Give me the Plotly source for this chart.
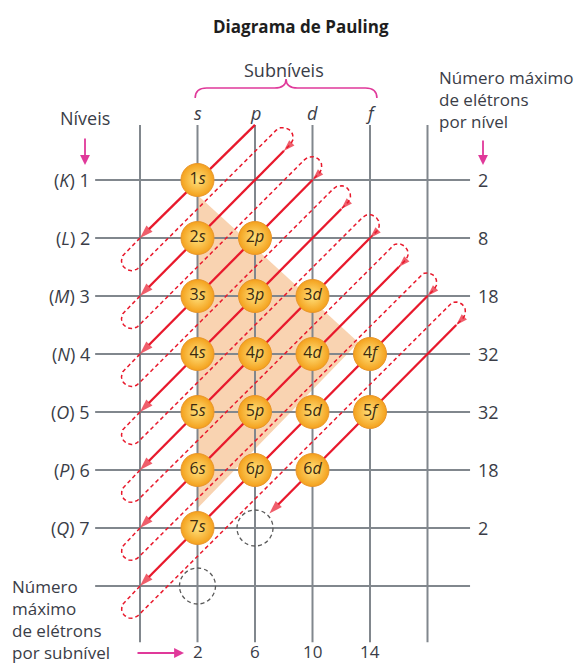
import math
import plotly.graph_objects as go

# ---------------- data ----------------
shells = ["K", "L", "M", "N", "O", "P", "Q"]
levels = [1, 2, 3, 4, 5, 6, 7]
max_e_level = [2, 8, 18, 32, 32, 18, 2]
subshells = ["s", "p", "d", "f"]
max_e_sub = [2, 6, 10, 14]
orb_level = [1, 2, 2, 3, 3, 3, 4, 4, 4, 4, 5, 5, 5, 5, 6, 6, 6, 7]
orb_sub = ["s", "s", "p", "s", "p", "d", "s", "p", "d", "f",
           "s", "p", "d", "f", "s", "p", "d", "s"]
empty_level = [7, 8]
empty_sub = ["p", "s"]
# diagonals in (column index, level) units: s=1, p=2, d=3, f=4
diag_start_col = [2, 2.5, 3, 3.5, 4, 4.5, 5, 5.5]
diag_start_lvl = [0.05, 0.5, 1, 1.5, 2, 2.5, 3, 3.5]
diag_end_col = [0, 0, 0, 0, 0, 0, 0, 2.25]
diag_end_lvl = [2, 3, 4, 5, 6, 7, 8, 6.75]

# ---------------- geometry helpers ----------------
PAGE_W, PAGE_H = 588, 664
OFF = 8  # page body margin
W, H = PAGE_W - OFF, PAGE_H - OFF
X0, DX = 140.0, 57.5
Y0, DY = 122.0, 58.0


def to_px(c, r):
    return X0 + DX * c, Y0 + DY * r


def to_data(x, y):
    return (x - X0) / DX, (y - Y0) / DY


col_of = {s: i + 1 for i, s in enumerate(subshells)}

FONT = "Open Sans"
TXT = "#3a3d47"
RED = "#e8192c"
GRID = "#81878d"
MAG = "#e0399a"

fig = go.Figure()
shapes = []
ann = []

# shaded triangle
sh = [(1, 1.26), (3.8, 3.8), (1, 6.66)]
shapes.append(dict(type="path", xref="x", yref="y", layer="below",
                   path="M %f,%f L %f,%f L %f,%f Z" % (sh[0] + sh[1] + sh[2]),
                   fillcolor="#f9d3b1", line=dict(width=0)))

# grid
n_cols = len(subshells) + 2
for c in range(n_cols):
    shapes.append(dict(type="line", xref="x", yref="y", layer="below",
                       x0=c, x1=c, y0=0.05, y1=8.97,
                       line=dict(color=GRID, width=2)))
for r in range(1, len(levels) + 2):
    shapes.append(dict(type="line", xref="x", yref="y", layer="below",
                       x0=-0.78, x1=5.74, y0=r, y1=r,
                       line=dict(color=GRID, width=2)))

# dashed connectors
s2 = math.sqrt(0.5)
u = (s2, -s2)
nv = (s2, s2)
for k in range(len(diag_start_col) - 1):
    Ex, Ey = to_px(diag_end_col[k], diag_end_lvl[k])
    Sx, Sy = to_px(diag_start_col[k + 1], diag_start_lvl[k + 1])
    D = (Sx - Ex) * nv[0] + (Sy - Ey) * nv[1]
    rho = D / 4.0
    a, b = 22.0, 9.0
    pts = [(Ex, Ey)]
    cbx = Ex - a * u[0] + rho * nv[0]
    cby = Ey - a * u[1] + rho * nv[1]
    for i in range(0, 25):
        t = math.pi * i / 24
        pts.append((cbx + rho * (-nv[0] * math.cos(t) - u[0] * math.sin(t)),
                    cby + rho * (-nv[1] * math.cos(t) - u[1] * math.sin(t))))
    ctx = Sx + b * u[0] - rho * nv[0]
    cty = Sy + b * u[1] - rho * nv[1]
    for i in range(0, 25):
        t = math.pi * i / 24
        pts.append((ctx + rho * (-nv[0] * math.cos(t) + u[0] * math.sin(t)),
                    cty + rho * (-nv[1] * math.cos(t) + u[1] * math.sin(t))))
    pts.append((Sx + 2 * u[0], Sy + 2 * u[1]))
    pts.append((Sx, Sy))
    dd = [to_data(x, y) for x, y in pts]
    sizes = [0] * (len(dd) - 1) + [12]
    fig.add_trace(go.Scatter(
        x=[p[0] for p in dd], y=[p[1] for p in dd], mode="lines+markers",
        line=dict(color=RED, width=1.5, dash="4px,3px"),
        marker=dict(size=sizes, symbol="arrow", angleref="previous",
                    color=RED, line=dict(width=0)),
        hoverinfo="skip", showlegend=False))

# solid diagonals
for k in range(len(diag_start_col)):
    fig.add_trace(go.Scatter(
        x=[diag_start_col[k], diag_end_col[k]],
        y=[diag_start_lvl[k], diag_end_lvl[k]], mode="lines+markers",
        line=dict(color=RED, width=2.3),
        marker=dict(size=[0, 14], symbol="arrow", angleref="previous",
                    color=RED, line=dict(width=0)),
        hoverinfo="skip", showlegend=False))

# empty (dashed) orbitals
for lv, sb in zip(empty_level, empty_sub):
    c = col_of[sb]
    shapes.append(dict(type="circle", xref="x", yref="y",
                       x0=c - 18 / DX, x1=c + 18 / DX,
                       y0=lv - 18 / DY, y1=lv + 18 / DY,
                       line=dict(color="#5a5a5a", width=1.3, dash="4px,3px")))

# orbitals
fig.add_trace(go.Scatter(
    x=[col_of[s] for s in orb_sub], y=orb_level, mode="markers+text",
    marker=dict(size=33, color="#f4a11c",
                gradient=dict(type="radial", color="#ffe27e"),
                line=dict(color="#e8952a", width=1)),
    text=["%d<i>%s</i>" % (lv, s) for lv, s in zip(orb_level, orb_sub)],
    textposition="middle center",
    textfont=dict(family=FONT, size=16, color="#3b2a10"),
    hoverinfo="skip", showlegend=False))

# brace over subshells
bx0, bx1 = 0.96, 4.12
bxm = (bx0 + bx1) / 2
yb, yh, yp = to_data(0, 98)[1], to_data(0, 88)[1], to_data(0, 79)[1]
cw = 0.2
brace = ("M %f,%f Q %f,%f %f,%f L %f,%f Q %f,%f %f,%f Q %f,%f %f,%f L %f,%f Q %f,%f %f,%f" %
         (bx0, yb, bx0, yh, bx0 + cw, yh, bxm - cw, yh, bxm, yh, bxm, yp,
          bxm, yh, bxm + cw, yh, bx1 - cw, yh, bx1, yh, bx1, yb))
shapes.append(dict(type="path", xref="x", yref="y", path=brace,
                   line=dict(color=MAG, width=1.6)))


def text(x, y, s, size=18, xanchor="center", color=TXT, family=FONT):
    ann.append(dict(x=x, y=y, xref="x", yref="y", text=s, showarrow=False,
                    xanchor=xanchor, yanchor="middle", align="left",
                    font=dict(family=family, size=size, color=color)))


def px_text(xp, yp, s, size=18, xanchor="center", color=TXT):
    x, y = to_data(xp, yp)
    text(x, y, s, size, xanchor, color)


# title
px_text(301, 26, "<b>Diagrama de Pauling</b>", size=17, color="#1e1e1e")
px_text(284, 70, "Subníveis")
# column letters
for s in subshells:
    text(col_of[s], -0.16, "<i>%s</i>" % s, size=18)
# level labels
for lv, shl, me in zip(levels, shells, max_e_level):
    text(-0.84, lv, "(<i>%s</i>) %d" % (shl, lv), xanchor="right")
    text(5.84, lv, str(me), xanchor="left")
# bottom numbers
for s, me in zip(subshells, max_e_sub):
    text(col_of[s], 9.13, str(me), size=17)
# headers
px_text(85, 118, "Níveis")
px_text(437, 99, "Número máximo<br>de elétrons<br>por nível", size=17,
        xanchor="left")
px_text(10, 619, "Número<br>máximo<br>de elétrons<br>por subnível", size=17,
        xanchor="left")


def arrow(xt, yt, xh, yh):
    tx, ty = to_data(xt, yt)
    hx, hy = to_data(xh, yh)
    ann.append(dict(x=hx, y=hy, ax=tx, ay=ty, xref="x", yref="y",
                    axref="x", ayref="y", showarrow=True, text="",
                    arrowhead=2, arrowsize=1.1, arrowwidth=1.8,
                    arrowcolor=MAG))


arrow(85, 137, 85, 165)
arrow(483, 139, 483, 165)
arrow(136, 653, 184, 653)

xr = [to_data(OFF, 0)[0], to_data(PAGE_W, 0)[0]]
yr = [to_data(0, PAGE_H)[1], to_data(0, OFF)[1]]
fig.update_layout(
    width=W, height=H, margin=dict(l=0, r=0, t=0, b=0, pad=0),
    paper_bgcolor="white", plot_bgcolor="white",
    xaxis=dict(range=xr, visible=False, fixedrange=True),
    yaxis=dict(range=yr, visible=False, fixedrange=True),
    shapes=shapes, annotations=ann, showlegend=False,
    font=dict(family=FONT))

fig.write_html("out.html")
